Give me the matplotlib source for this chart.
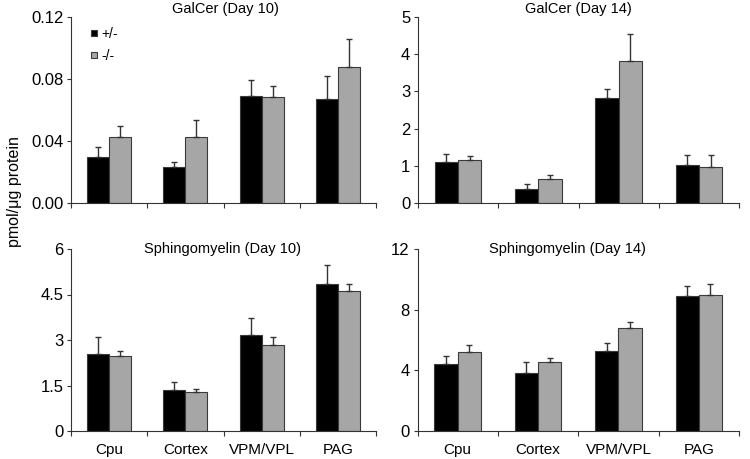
import matplotlib
matplotlib.use("Agg")
import matplotlib.pyplot as plt
import numpy as np

plt.rcParams['font.family'] = ['Liberation Sans', 'DejaVu Sans']

categories = ["Cpu", "Cortex", "VPM/VPL", "PAG"]
groups = ["+/-", "-/-"]

galcer_d10_het = [0.0295, 0.0232, 0.0692, 0.0671]
galcer_d10_het_err = [0.0065, 0.0031, 0.0104, 0.0150]
galcer_d10_ko = [0.0428, 0.0428, 0.0686, 0.0877]
galcer_d10_ko_err = [0.0067, 0.0110, 0.0067, 0.0183]

galcer_d14_het = [1.105, 0.377, 2.83, 1.03]
galcer_d14_het_err = [0.215, 0.123, 0.23, 0.26]
galcer_d14_ko = [1.15, 0.64, 3.81, 0.98]
galcer_d14_ko_err = [0.125, 0.12, 0.73, 0.31]

sm_d10_het = [2.53, 1.34, 3.17, 4.84]
sm_d10_het_err = [0.58, 0.26, 0.56, 0.62]
sm_d10_ko = [2.48, 1.29, 2.83, 4.62]
sm_d10_ko_err = [0.17, 0.11, 0.27, 0.24]

sm_d14_het = [4.45, 3.81, 5.28, 8.92]
sm_d14_het_err = [0.50, 0.73, 0.51, 0.66]
sm_d14_ko = [5.24, 4.54, 6.78, 8.94]
sm_d14_ko_err = [0.46, 0.28, 0.42, 0.72]

panels = [
    ("GalCer (Day 10)", galcer_d10_het, galcer_d10_het_err, galcer_d10_ko, galcer_d10_ko_err,
     [0, 0.04, 0.08, 0.12], ["0.00", "0.04", "0.08", "0.12"]),
    ("GalCer (Day 14)", galcer_d14_het, galcer_d14_het_err, galcer_d14_ko, galcer_d14_ko_err,
     [0, 1, 2, 3, 4, 5], ["0", "1", "2", "3", "4", "5"]),
    ("Sphingomyelin (Day 10)", sm_d10_het, sm_d10_het_err, sm_d10_ko, sm_d10_ko_err,
     [0, 1.5, 3, 4.5, 6], ["0", "1.5", "3", "4.5", "6"]),
    ("Sphingomyelin (Day 14)", sm_d14_het, sm_d14_het_err, sm_d14_ko, sm_d14_ko_err,
     [0, 4, 8, 12], ["0", "4", "8", "12"]),
]

W, H = 750, 459
fig = plt.figure(figsize=(7.5, 4.59), dpi=100)

# axes rectangles in pixel coords: left, top, right, bottom
rects = [(71, 17, 376, 203), (418, 17, 739, 203), (71, 249, 376, 431), (417.5, 249, 739, 431)]
title_pos = [(225, 9), (578, 9), (222, 249.5), (567.5, 249.5)]

black = "#000000"
gray = "#a6a6a6"
edge = "#3a3a3a"
bw = 0.29
ekw = dict(ecolor="#333333", elinewidth=1.0, capsize=2.3, capthick=1.0)

for i, (rect, (title, h, he, k, ke, yt, ytl)) in enumerate(zip(rects, panels)):
    l, t, r, b = rect
    ax = fig.add_axes([l / W, 1 - b / H, (r - l) / W, (b - t) / H])
    x = np.arange(len(categories))
    ax.bar(x - bw / 2, h, bw, color=black, edgecolor=edge, linewidth=0.8,
           yerr=[np.zeros(len(he)), he], error_kw=ekw, label=groups[0], zorder=2)
    ax.bar(x + bw / 2, k, bw, color=gray, edgecolor=edge, linewidth=0.8,
           yerr=[np.zeros(len(ke)), ke], error_kw=ekw, label=groups[1], zorder=2)
    ax.set_xlim(-0.5, len(categories) - 0.5)
    ax.set_ylim(yt[0], yt[-1])
    ax.set_yticks(yt)
    ax.set_yticklabels(ytl, fontsize=12)
    ax.set_xticks(np.arange(len(categories) + 1) - 0.5)
    ax.set_xticklabels([])
    ax.tick_params(axis='x', direction='out', length=3.5, width=0.8, color="#333333")
    ax.tick_params(axis='y', direction='out', length=3, width=0.8, color="#333333", pad=2.5)
    if i >= 2:
        for xi, c in enumerate(categories):
            ax.text(xi, 1 - (450 - t) / (b - t), c, transform=ax.get_xaxis_transform(),
                    ha='center', va='center', fontsize=11)
    for s in ["top", "right"]:
        ax.spines[s].set_visible(False)
    for s in ["left", "bottom"]:
        ax.spines[s].set_linewidth(0.8)
        ax.spines[s].set_color("#333333")
    fig.text(title_pos[i][0] / W, 1 - title_pos[i][1] / H, title, ha='center', va='center', fontsize=10.5)
    if i == 0:
        ax.legend(loc='upper left', bbox_to_anchor=((91 - l) / (r - l), 1 - (27 - t) / (b - t)),
                  frameon=False, fontsize=10, handlelength=0.45, handleheight=0.3,
                  handletextpad=0.3, labelspacing=0.55, borderaxespad=0, borderpad=0)

fig.text(15 / W, 1 - 192 / H, "pmol/μg protein", rotation=90, ha='center', va='center', fontsize=11.5)

fig.savefig("out.png", dpi=100)
